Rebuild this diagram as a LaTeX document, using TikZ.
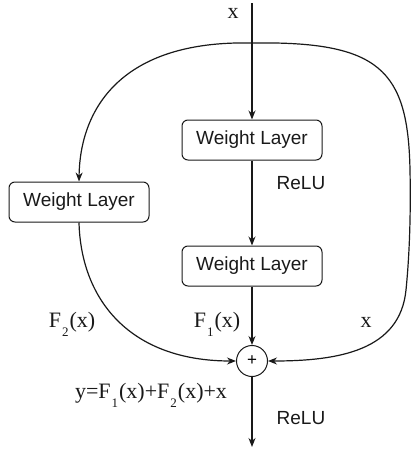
\documentclass[tikz,border=0pt]{standalone}
\usepackage{fontspec}
\setmainfont{Liberation Serif}
\setsansfont{Liberation Sans}
\usetikzlibrary{arrows.meta}
\definecolor{ink}{RGB}{25,25,25}
\tikzset{
  >={Stealth[length=9pt,width=7pt]},
  layer/.style={draw=ink,line width=1pt,rounded corners=6pt,minimum width=140pt,
    minimum height=40pt,font=\sffamily\fontsize{19}{22}\selectfont,text=ink},
  flow/.style={->,line width=1.2pt,draw=ink},
  tag/.style={font=\fontsize{22}{26}\selectfont,text=ink},
  act/.style={font=\sffamily\fontsize{19}{22}\selectfont,text=ink},
  adder/.style={circle,draw=ink,line width=1pt,minimum size=31pt,inner sep=0pt,
    font=\sffamily\fontsize{17}{18}\selectfont},
}
\newcommand{\lowsub}[1]{\kern1pt\raisebox{-0.42em}{\fontsize{13}{14}\selectfont #1}\kern1pt}

\begin{document}
\begin{tikzpicture}[x=1pt,y=-1pt]
  \useasboundingbox (0,0) rectangle (412,450);
  \coordinate (input) at (252,3);
  \coordinate (split) at (252,43);
  \coordinate (output) at (252,447);
  \node[layer] (wl1) at (252,140) {Weight Layer};
  \node[layer] (wl2) at (252,266) {Weight Layer};
  \node[layer] (wl3) at (79,202) {Weight Layer};
  \node[adder] (add) at (252,361) {+};
  % main path
  \draw[flow] (input) -- (wl1);
  \draw[flow] (wl1) -- (wl2);
  \draw[flow] (wl2) -- (add);
  \draw[flow] (add) -- (output);
  % branches
  \draw[flow] (split) .. controls (120,40) and (80,110) .. (wl3.north);
  \draw[flow] (wl3.south) .. controls (81,300) and (130,361) .. (add.west);
  \draw[flow] (split) .. controls (380,41) and (408,70) .. (410,170)
    .. controls (411,220) and (409,260) .. (406,290)
    .. controls (400,350) and (340,361) .. (add.east);
  % labels
  \node[tag] (lx) at (233,13) {x};
  \node[act] (r1) at (301,183) {ReLU};
  \node[act] (r2) at (301,418) {ReLU};
  \node[tag] (lf2) at (72,324) {F\lowsub{2}(x)};
  \node[tag] (lf1) at (217,324) {F\lowsub{1}(x)};
  \node[tag] (lx2) at (366,322) {x};
  \node[tag] (ly) at (151,395) {y=F\lowsub{1}(x)+F\lowsub{2}(x)+x};
\end{tikzpicture}
\end{document}
